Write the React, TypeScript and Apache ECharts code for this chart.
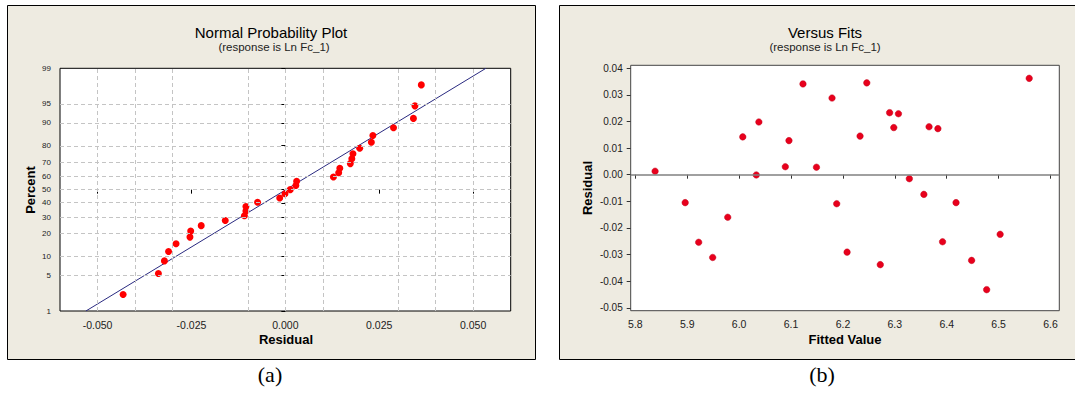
import React, { useEffect, useRef } from "react";
import * as echarts from "echarts";

// ---------- data ----------
const fittedValues = [5.838, 5.896, 5.922, 5.949, 5.978, 6.007, 6.033, 6.038, 6.089, 6.096, 6.123, 6.149, 6.179, 6.188, 6.208, 6.233, 6.246, 6.272, 6.29, 6.298, 6.307, 6.328, 6.356, 6.366, 6.383, 6.392, 6.418, 6.448, 6.477, 6.503, 6.559];
const residuals = [0.0013, -0.0105, -0.0254, -0.0311, -0.016, 0.0142, -0.0001, 0.0198, 0.003, 0.0128, 0.0341, 0.0028, 0.0288, -0.0109, -0.0291, 0.0145, 0.0345, -0.0338, 0.0233, 0.0177, 0.0229, -0.0015, -0.0074, 0.018, 0.0173, -0.0252, -0.0105, -0.0322, -0.0432, -0.0224, 0.0362];

const sortedResiduals = [-0.0432, -0.0338, -0.0322, -0.0311, -0.0291, -0.0254, -0.0252, -0.0224, -0.016, -0.0109, -0.0105, -0.0105, -0.0074, -0.0015, -0.0001, 0.0013, 0.0028, 0.003, 0.0128, 0.0142, 0.0145, 0.0173, 0.0177, 0.018, 0.0198, 0.0229, 0.0233, 0.0288, 0.0341, 0.0345, 0.0362];
const percents = [2.23, 5.41, 8.6, 11.78, 14.97, 18.15, 21.34, 24.52, 27.71, 30.89, 34.08, 37.26, 40.45, 43.63, 46.82, 50.0, 53.18, 56.37, 59.55, 62.74, 65.92, 69.11, 72.29, 75.48, 78.66, 81.85, 85.03, 88.22, 91.4, 94.59, 97.77];

const fitLineResidual = [-0.0531, 0.0534];
const fitLinePercent = [1, 99];

// ---------- tick labels ----------
const percentTicks = [1, 5, 10, 20, 30, 40, 50, 60, 70, 80, 90, 95, 99];
const percentGrid = [5, 10, 20, 30, 40, 50, 60, 70, 80, 90, 95];
const residualTicksA = [-0.05, -0.025, 0, 0.025, 0.05];
const residualGridA = [-0.05, -0.0375, -0.025, -0.0125, 0, 0.0125, 0.025, 0.0375, 0.05];
const fitTicks = [5.8, 5.9, 6.0, 6.1, 6.2, 6.3, 6.4, 6.5, 6.6];
const residualTicksB = [-0.05, -0.04, -0.03, -0.02, -0.01, 0, 0.01, 0.02, 0.03, 0.04];

// inverse standard normal CDF (probability axis transform)
function normInv(p: number): number {
  const a = [-3.969683028665376e1, 2.209460984245205e2, -2.759285104469687e2, 1.38357751867269e2, -3.066479806614716e1, 2.506628277459239];
  const b = [-5.447609879822406e1, 1.615858368580409e2, -1.556989798598866e2, 6.680131188771972e1, -1.328068155288572e1];
  const c = [-7.784894002430293e-3, -3.223964580411365e-1, -2.400758277161838, -2.549732539343734, 4.374664141464968, 2.938163982698783];
  const d = [7.784695709041462e-3, 3.224671290700398e-1, 2.445134137142996, 3.754408661907416];
  const plow = 0.02425;
  const phigh = 1 - plow;
  if (p < plow) {
    const q = Math.sqrt(-2 * Math.log(p));
    return (((((c[0] * q + c[1]) * q + c[2]) * q + c[3]) * q + c[4]) * q + c[5]) / ((((d[0] * q + d[1]) * q + d[2]) * q + d[3]) * q + 1);
  }
  if (p <= phigh) {
    const q = p - 0.5;
    const r = q * q;
    return ((((((a[0] * r + a[1]) * r + a[2]) * r + a[3]) * r + a[4]) * r + a[5]) * q) / (((((b[0] * r + b[1]) * r + b[2]) * r + b[3]) * r + b[4]) * r + 1);
  }
  const q = Math.sqrt(-2 * Math.log(1 - p));
  return -(((((c[0] * q + c[1]) * q + c[2]) * q + c[3]) * q + c[4]) * q + c[5]) / ((((d[0] * q + d[1]) * q + d[2]) * q + d[3]) * q + 1);
}
const z = (pct: number) => normInv(pct / 100);

const FONT = "'Liberation Sans', Arial, sans-serif";

export default function App() {
  const ref = useRef<HTMLDivElement>(null);
  useEffect(() => {
    if (!ref.current) return;
    const chart = echarts.init(ref.current, undefined, { renderer: "svg" });
    const tickZ = percentTicks.map(z);
    const gridLineStyle = { color: "#c4c4c4", width: 1, type: [4, 3] as any };

    const option: any = {
      animation: false,
      backgroundColor: "#ffffff",
      textStyle: { fontFamily: FONT },
      graphic: {
        elements: [
          { type: "rect", z: -10, shape: { x: 7.5, y: 5.5, width: 528, height: 354 }, style: { fill: "#eeebe1", stroke: "#000", lineWidth: 1 } },
          { type: "rect", z: -10, shape: { x: 559.5, y: 5.5, width: 540, height: 354 }, style: { fill: "#eeebe1", stroke: "#000", lineWidth: 1 } },
          { type: "text", z: 10, x: 271, y: 32, style: { text: "Normal Probability Plot", fontSize: 15, fontFamily: FONT, fill: "#000", textAlign: "center", textVerticalAlign: "middle" } },
          { type: "text", z: 10, x: 274, y: 47, style: { text: "(response is Ln Fc_1)", fontSize: 11.5, fontFamily: FONT, fill: "#222", textAlign: "center", textVerticalAlign: "middle" } },
          { type: "text", z: 10, x: 825, y: 32, style: { text: "Versus Fits", fontSize: 15, fontFamily: FONT, fill: "#000", textAlign: "center", textVerticalAlign: "middle" } },
          { type: "text", z: 10, x: 825, y: 47, style: { text: "(response is Ln Fc_1)", fontSize: 11.5, fontFamily: FONT, fill: "#222", textAlign: "center", textVerticalAlign: "middle" } },
          { type: "text", z: 10, x: 286, y: 339, style: { text: "Residual", fontSize: 13, fontWeight: "bold", fontFamily: FONT, fill: "#000", textAlign: "center", textVerticalAlign: "middle" } },
          { type: "text", z: 10, x: 30, y: 190, rotation: Math.PI / 2, style: { text: "Percent", fontSize: 13, fontWeight: "bold", fontFamily: FONT, fill: "#000", textAlign: "center", textVerticalAlign: "middle" } },
          { type: "text", z: 10, x: 845, y: 339, style: { text: "Fitted Value", fontSize: 13, fontWeight: "bold", fontFamily: FONT, fill: "#000", textAlign: "center", textVerticalAlign: "middle" } },
          { type: "text", z: 10, x: 587, y: 188, rotation: Math.PI / 2, style: { text: "Residual", fontSize: 13, fontWeight: "bold", fontFamily: FONT, fill: "#000", textAlign: "center", textVerticalAlign: "middle" } },
          { type: "text", z: 10, x: 270, y: 374, style: { text: "(a)", fontSize: 22, fontFamily: "'Liberation Serif', 'Times New Roman', serif", fill: "#000", textAlign: "center", textVerticalAlign: "middle" } },
          { type: "text", z: 10, x: 822, y: 374, style: { text: "(b)", fontSize: 22, fontFamily: "'Liberation Serif', 'Times New Roman', serif", fill: "#000", textAlign: "center", textVerticalAlign: "middle" } },
        ],
      },
      grid: [
        { left: 60, top: 68.3, width: 450.7, height: 242.7, show: true, backgroundColor: "#ffffff", borderColor: "#000", borderWidth: 1 },
        { left: 630.7, top: 65.3, width: 428.6, height: 245.4, show: true, backgroundColor: "#ffffff", borderColor: "#444", borderWidth: 1 },
      ],
      xAxis: [
        {
          type: "value", gridIndex: 0, min: -0.06, max: 0.06,
          axisLine: { show: false }, splitLine: { show: false },
          axisTick: { show: true, length: 4, customValues: residualTicksA, lineStyle: { color: "#000" } },
          axisLabel: { customValues: residualTicksA, margin: 8, fontSize: 10.5, color: "#222", fontFamily: FONT, formatter: (v: number) => v.toFixed(3) },
        },
        {
          type: "value", gridIndex: 1, min: 5.791, max: 6.617,
          axisLine: { show: false }, splitLine: { show: false },
          axisTick: { show: true, length: 4, customValues: fitTicks, lineStyle: { color: "#333" } },
          axisLabel: { customValues: fitTicks, margin: 8, fontSize: 10.5, color: "#222", fontFamily: FONT, formatter: (v: number) => v.toFixed(1) },
        },
      ],
      yAxis: [
        {
          type: "value", gridIndex: 0, min: z(1), max: z(99),
          axisLine: { show: false }, splitLine: { show: false },
          axisTick: { show: true, length: 4, customValues: tickZ, lineStyle: { color: "#000" } },
          axisLabel: {
            customValues: tickZ, margin: 9, fontSize: 8, color: "#222", fontFamily: FONT,
            formatter: (v: number) => {
              let best = 0;
              tickZ.forEach((t, i) => { if (Math.abs(t - v) < Math.abs(tickZ[best] - v)) best = i; });
              return String(percentTicks[best]);
            },
          },
        },
        {
          type: "value", gridIndex: 1, min: -0.0511, max: 0.0411,
          axisLine: { show: false }, splitLine: { show: false },
          axisTick: { show: true, length: 4, customValues: residualTicksB, lineStyle: { color: "#333" } },
          axisLabel: { customValues: residualTicksB, margin: 8, fontSize: 10, color: "#222", fontFamily: FONT, formatter: (v: number) => v.toFixed(2) },
        },
      ],
      series: [
        {
          type: "scatter", xAxisIndex: 0, yAxisIndex: 0, data: [], z: 1, silent: true,
          markLine: {
            silent: true, symbol: ["none", "none"], label: { show: false }, animation: false,
            lineStyle: gridLineStyle,
            data: [
              ...residualGridA.map((v) => ({ xAxis: v })),
              ...percentGrid.map((p) => ({ yAxis: z(p) })),
            ],
          },
        },
        {
          type: "line", xAxisIndex: 0, yAxisIndex: 0, z: 3, symbol: "none", silent: true,
          lineStyle: { color: "#2a2a80", width: 1 },
          data: fitLineResidual.map((r, i) => [r, z(fitLinePercent[i])]),
        },
        {
          type: "scatter", xAxisIndex: 0, yAxisIndex: 0, z: 4, symbolSize: 7,
          itemStyle: { color: "#ff0000", opacity: 1 },
          data: sortedResiduals.map((r, i) => [r, z(percents[i])]),
        },
        {
          type: "scatter", xAxisIndex: 1, yAxisIndex: 1, data: [], z: 1, silent: true,
          markLine: {
            silent: true, symbol: ["none", "none"], label: { show: false }, animation: false,
            lineStyle: { color: "#808080", width: 1.5, type: "solid" },
            data: [{ yAxis: 0 }],
          },
        },
        {
          type: "scatter", xAxisIndex: 1, yAxisIndex: 1, z: 4, symbolSize: 6.5,
          itemStyle: { color: "#e8001c", borderColor: "#c00018", borderWidth: 0.5, opacity: 1 },
          data: fittedValues.map((f, i) => [f, residuals[i]]),
        },
      ],
    };
    chart.setOption(option);
    return () => chart.dispose();
  }, []);
  return <div ref={ref} style={{ position: "absolute", left: 0, top: 0, width: 1075, height: 396 }} />;
}
